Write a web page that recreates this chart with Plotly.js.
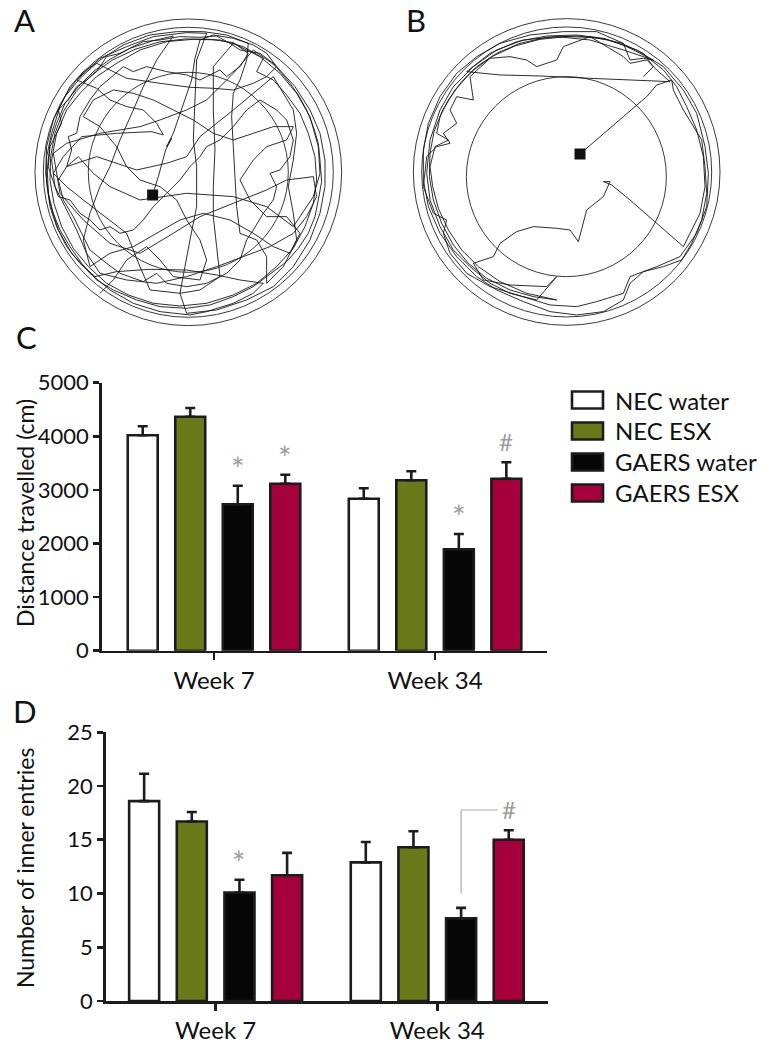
<!DOCTYPE html>
<html><head><meta charset="utf-8">
<script src="https://cdn.plot.ly/plotly-3.0.1.min.js"></script>
<style>html,body{margin:0;padding:0;background:#fff}#chart{width:769px;height:1050px}</style>
</head><body><div id="chart"></div>
<script>
// ---------------- data ----------------
const categories = ['Week 7', 'Week 34'];
const seriesNames = ['NEC water', 'NEC ESX', 'GAERS water', 'GAERS ESX'];

// C: distance travelled (cm), mean and SEM
const distNECwater   = [4019, 2836];
const distNECesx     = [4366, 3179];
const distGAERSwater = [2731, 1892];
const distGAERSesx   = [3116, 3209];
const distSemNECwater   = [168, 194];
const distSemNECesx     = [162, 168];
const distSemGAERSwater = [347, 285];
const distSemGAERSesx   = [168, 306];

// D: number of inner entries, mean and SEM
const entNECwater   = [18.6, 12.9];
const entNECesx     = [16.7, 14.3];
const entGAERSwater = [10.1, 7.7];
const entGAERSesx   = [11.7, 15.0];
const entSemNECwater   = [2.55, 1.9];
const entSemNECesx     = [0.88, 1.49];
const entSemGAERSwater = [1.18, 0.96];
const entSemGAERSesx   = [2.08, 0.88];

// significance marks
const distSigSeries = [2, 3, 2, 3];
const distSigGroup  = [0, 0, 1, 1];
const distSigText   = ['*', '*', '*', '#'];
const entSigSeries = [2, 3];
const entSigGroup  = [0, 1];
const entSigText   = ['*', '#'];
const entBracketTop = 17.77;

const distTitle = 'Distance travelled (cm)';
const entTitle = 'Number of inner entries';
const panelLetters = ['A', 'B', 'C', 'D'];

// A / B: open-field tracks, [x, y] in camera pixels (y downward)
const trackA = [[458,585],[475,530],[497,450],[515,415],[500,440],[520,400],[545,330],[575,240],[585,175],[600,120],
 [640,105],[700,115],[760,135],[800,160],[830,200],[800,230],[760,250],[700,270],[640,265],[570,262],
 [480,250],[380,235],[330,210],[290,190],[250,215],[210,260],[180,320],[155,400],[140,470],[140,550],
 [150,620],[170,680],[200,740],[240,790],[285,830],[350,815],[450,808],[560,810],[650,825],[720,840],
 [790,850],[760,880],[700,910],[620,935],[570,945],[480,935],[400,910],[330,870],[270,820],[215,760],
 [175,690],[150,610],[137,520],[140,440],[160,360],[195,290],[240,235],[300,180],[370,135],[450,105],
 [530,95],[610,95],[680,105],[745,130],[740,180],[720,240],[700,280],[695,350],[700,440],[705,530],
 [710,620],[720,700],[770,720],[800,770],[800,850],[850,800],[890,720],[880,640],[865,560],[880,480],
 [890,400],[880,330],[850,280],[820,230],[700,330],[600,410],[560,470],[500,490],[410,510],[290,470],
 [200,500],[235,470],[280,520],[330,560],[420,600],[560,580],[700,590],[800,620],[880,680],[940,590],
 [960,520],[955,440],[930,350],[890,280],[840,220],[780,170],[700,130],[640,200],[640,330],[645,450],
 [640,560],[640,650],[650,740],[660,830],[600,870],[540,880],[450,870],[420,800],[380,700],[300,640],
 [250,600],[200,560],[160,520],[190,470],[245,410],[350,400],[455,395],[490,405],[470,370],[430,330],
 [380,320],[330,300],[290,265],[230,240],[300,175],[380,140],[460,110],[560,98],[620,100],[590,180],
 [585,300],[580,420],[590,500],[590,620],[570,720],[555,800],[540,880],[560,940],[650,930],[740,900],
 [820,860],[880,800],[930,720],[960,640],[975,560],[975,480],[960,400],[930,330],[885,260],[830,200],
 [760,150],[700,220],[620,300],[560,330],[480,360],[420,380],[300,400],[200,430],[160,460],[180,580],
 [250,660],[330,730],[420,760],[520,700],[600,650],[700,610],[800,570],[860,540],[940,530],[950,590],
 [920,650],[880,700],[810,740],[730,770],[650,800],[560,830],[470,850],[380,840],[300,820],[260,760],
 [230,690],[195,620],[165,560],[155,480],[170,400],[200,330],[240,280],[290,230],[350,190],[420,150],
 [500,125],[580,118],[660,120],[730,140],[790,175],[770,215],[820,240],[860,285],[900,340],[925,400],
 [945,470],[950,540],[940,610],[915,680],[880,745],[830,800],[770,850],[700,885],[620,910],[540,918],
 [460,910],[385,885],[320,850],[265,800],[220,745],[185,680],[162,610],[150,540],[152,470],[165,400],
 [190,335],[228,275],[278,222],[338,180],[405,148],[478,126],[555,117],[632,118],
 [700,128],[745,160],[720,200],[680,230],[660,210],[600,240],[560,225],[500,215],[440,200],[400,215],
 [370,200],[330,235],[300,260],[270,300],[240,350],[230,400],[205,410],[215,450],[200,500],[175,540],
 [190,600],[220,650],[245,700],[270,750],[320,790],[360,820],[430,845],[470,820],[500,850],[560,860],
 [620,850],[680,820],[720,780],[740,720],[760,690],[790,640],[820,600],[830,560],[810,520],[840,510],
 [870,470],[880,420],[860,360],[830,330],[780,300],[740,330],[700,380],[660,420],[620,440],[600,470],
 [570,500],[540,540],[500,580],[460,620],[430,660],[400,690],[360,700],[330,680],[300,690],[270,660],
 [240,640],[210,600],[175,590],[160,545],[145,500],[150,440],[165,410],[185,370],[175,330],[205,300],
 [230,260],[260,240],[290,215],[320,170],[360,160],[400,140],[430,125],[480,120],[540,110],[600,112],
 [650,108],[690,130],[720,150],[780,160],[820,190],[845,220],[870,250],[895,285],[920,330],[940,380],
 [955,430],[960,480],[965,545],[955,600],[945,650],[925,700],[895,745],[860,785],[815,820],[760,860],
 [700,890],[630,915],[560,925],[480,920],[410,900],[340,870],[290,840],[245,790],[210,740],[180,690],
 [160,640],[145,580],[142,510],[150,430],[170,370],[195,310],[235,260],[280,215],[330,178],[390,145],
 [460,122],[520,108],[470,180],[430,260],[400,330],[360,420],[330,500],[300,560],[270,640],[250,720],
 [270,800],[330,760],[400,740],[470,700],[540,660],[610,640],[690,660],[760,700],[820,740],[870,760],
 [900,700],[860,650],[800,650],[750,600],[720,540],[760,480],[800,440],[860,420],[880,380],[820,380],
 [760,400],[700,420],[640,400],[580,360],[520,330],[460,300],[400,280],[340,270],[280,300],[250,350],
 [300,380],[350,440],[380,500],[420,540],[480,560],[530,600],[560,660],[600,720],[620,780],[600,840],
 [520,830],[480,780],[440,740],[380,780],[340,840],[300,880]];
const trackB = [[570,462],[620,420],[700,350],[770,290],[800,255],[845,240],[850,270],[880,330],[910,380],[935,420],
 [945,500],[950,580],[935,660],[905,730],[875,780],[820,800],[760,815],[720,850],[700,900],[640,935],
 [560,945],[480,935],[400,905],[320,870],[260,830],[200,770],[150,700],[115,620],[100,540],[100,450],
 [115,370],[150,290],[200,220],[260,170],[330,130],[420,105],[520,95],[620,95],[700,130],[720,180],
 [760,175],[790,180],[700,150],[600,120],[500,110],[400,120],[320,150],[250,200],[190,260],[150,330],
 [120,420],[110,520],[120,600],[150,680],[190,750],[240,800],[300,850],[360,880],[440,900],[500,830],
 [470,860],[360,855],[280,840],[250,790],[310,770],[330,730],[380,695],[430,680],[500,685],[540,690],
 [565,725],[575,690],[590,630],[640,590],[660,545],[640,545],[665,555],[720,600],[800,670],[880,740],
 [900,700],[930,640],[945,560],[940,470],[920,390],[890,320],[860,260],[820,210],[770,170],[700,135],
 [640,115],[560,105],[470,108],[380,125],[300,160],[230,215],[330,225],[450,228],[600,235],[720,240],
 [840,245],[800,210],[770,180],[720,190],[700,170],[600,110],[520,140],[500,180],[440,200],[410,180],
 [360,170],[300,175],[240,230],[250,300],[200,290],[180,330],[200,370],[160,400],[180,430],[140,440],
 [110,470],[100,560],[130,640],[170,660],[160,700],[180,760],[230,820],[300,860],[400,890],[480,915],
 [560,920],[620,905],[700,880],[720,830],[800,800],[870,770],[920,700],[950,620],[955,520],[945,440],
 [920,340],[880,270],[820,200],[740,150],[650,118],[560,108],[470,112],[390,130],[320,160],[260,200],
 [215,245],[175,300],[150,350],[140,400],[175,420],[135,440],[120,500],[128,560],[145,625],[175,690],
 [215,750],[265,800],[330,845],[410,880],[500,900],[430,890],[360,870],[290,835],[235,790],[190,735],
 [155,670],[130,600],[118,530],[120,460],[132,395],[158,330],[195,270],[245,215],[305,170],[375,138],
 [450,118],[530,110],[610,112],[690,128],[760,160],[790,200],[760,230]];

// arena geometry (camera pixel coordinates)
const arenaACenter = [565, 517];
const arenaBCenter = [530, 516];
const arenaBZoneCenter = [529, 530];
const arenaRadii = [460, 435];
const zoneRadius = 300;

// ---------------- styles ----------------
const seriesColors = ['#ffffff', '#6a7a1b', '#060606', '#a6003a'];
const edge = '#1c1c1c';
const FONT = 'Lato, "Open Sans", sans-serif';
const PX = v => v / 769;
const PY = v => 1 - v / 1050;
const BARGAP = 0.14, GROUPGAP = 0.37;
const slot = (1 - BARGAP) / 4;
const off = i => (i - 1.5) * slot;

const distMeans = [distNECwater, distNECesx, distGAERSwater, distGAERSesx];
const distSems = [distSemNECwater, distSemNECesx, distSemGAERSwater, distSemGAERSesx];
const entMeans = [entNECwater, entNECesx, entGAERSwater, entGAERSesx];
const entSems = [entSemNECwater, entSemNECesx, entSemGAERSwater, entSemGAERSesx];

const traces = [];
function addBars(means, sems, xa, ya) {
  means.forEach((m, i) => {
    traces.push({
      type: 'bar', x: categories, y: m, name: seriesNames[i], xaxis: xa, yaxis: ya,
      showlegend: false, hoverinfo: 'none',
      marker: {color: seriesColors[i], line: {color: edge, width: 2.6}},
      error_y: {type: 'data', array: sems[i], arrayminus: sems[i].map(() => 0), symmetric: false,
                color: edge, thickness: 2.6, width: 5}
    });
  });
}
addBars(distMeans, distSems, 'x', 'y');
addBars(entMeans, entSems, 'x2', 'y2');

function addTrack(track, xa, ya) {
  const xs = track.map(p => p[0]), ys = track.map(p => p[1]);
  traces.push({type: 'scatter', mode: 'lines', x: xs, y: ys, xaxis: xa, yaxis: ya,
    line: {color: '#161616', width: 0.9}, showlegend: false, hoverinfo: 'none'});
  traces.push({type: 'scatter', mode: 'markers', x: [xs[0]], y: [ys[0]], xaxis: xa, yaxis: ya,
    marker: {symbol: 'square', size: 11, color: '#111'}, showlegend: false, hoverinfo: 'none'});
}
addTrack(trackA, 'x3', 'y3');
addTrack(trackB, 'x4', 'y4');

const shapes = [];
function circle(xa, ya, c, r) {
  shapes.push({type: 'circle', xref: xa, yref: ya, x0: c[0] - r, x1: c[0] + r, y0: c[1] - r, y1: c[1] + r,
    line: {color: '#3a3a3a', width: 1}, layer: 'below'});
}
arenaRadii.forEach(r => circle('x3', 'y3', arenaACenter, r));
circle('x3', 'y3', arenaACenter, zoneRadius);
arenaRadii.forEach(r => circle('x4', 'y4', arenaBCenter, r));
circle('x4', 'y4', arenaBZoneCenter, zoneRadius);

const annotations = [];
function sig(xa, ya, means, sems, sSeries, sGroup, sText) {
  sSeries.forEach((s, k) => {
    const g = sGroup[k];
    const star = sText[k] === '*';
    annotations.push({xref: xa, yref: ya, x: g + off(s), y: means[s][g] + sems[s][g],
      text: sText[k], showarrow: false, yanchor: 'bottom', xanchor: 'center',
      yshift: star ? -4 : 4,
      font: {family: FONT, size: star ? 32 : 24, color: '#9d9d9d'}});
  });
}
sig('x', 'y', distMeans, distSems, distSigSeries, distSigGroup, distSigText);
sig('x2', 'y2', entMeans, entSems, entSigSeries, entSigGroup, entSigText);

// bracket in D
shapes.push({type: 'line', xref: 'x2', yref: 'y2', x0: 1 + off(2), x1: 1 + off(2),
  y0: entGAERSwater[1] + 2.3, y1: entBracketTop, line: {color: '#aaaaaa', width: 1.2}});
shapes.push({type: 'line', xref: 'x2', yref: 'y2', x0: 1 + off(2), x1: 1 + off(3) - 0.05,
  y0: entBracketTop, y1: entBracketTop, line: {color: '#aaaaaa', width: 1.2}});

// legend (manual)
const legendCenters = [400, 431, 462, 493];
seriesNames.forEach((n, i) => {
  shapes.push({type: 'rect', xref: 'paper', yref: 'paper', x0: PX(572), x1: PX(603),
    y0: PY(legendCenters[i] + 8.5), y1: PY(legendCenters[i] - 8.5),
    fillcolor: seriesColors[i], line: {color: edge, width: 2.6}});
  annotations.push({xref: 'paper', yref: 'paper', x: PX(613), y: PY(legendCenters[i]), text: n,
    showarrow: false, xanchor: 'left', yanchor: 'middle', font: {family: FONT, size: 24, color: '#111'}});
});

// panel letters
const letterPos = [[24, 20], [416, 20], [26, 337], [25, 711]];
panelLetters.forEach((t, i) => {
  annotations.push({xref: 'paper', yref: 'paper', x: PX(letterPos[i][0]), y: PY(letterPos[i][1]), text: t,
    showarrow: false, xanchor: 'center', yanchor: 'middle', font: {family: FONT, size: 31, color: '#111'}});
});

// y-axis titles (fixed position, as in the figure)
[[distTitle, 513], [entTitle, 868]].forEach(([t, y]) => {
  annotations.push({xref: 'paper', yref: 'paper', x: PX(25), y: PY(y), text: t, textangle: -90,
    showarrow: false, xanchor: 'center', yanchor: 'middle', font: {family: FONT, size: 23, color: '#111'}});
});

const xBase = {type: 'category', showline: true, linewidth: 2.6, linecolor: edge, ticks: 'outside',
  ticklen: 7, tickwidth: 2.6, tickcolor: edge, showgrid: false, zeroline: false,
  tickfont: {family: FONT, size: 24, color: '#111'}, fixedrange: true};
const yBase = {showline: true, linewidth: 2.6, linecolor: edge, ticks: 'outside', ticklen: 6,
  tickwidth: 2.6, tickcolor: edge, showgrid: false, zeroline: false,
  tickfont: {family: FONT, size: 22, color: '#111'}, fixedrange: true};
const hidden = {visible: false, fixedrange: true};

const layout = {
  width: 769, height: 1050, margin: {l: 0, r: 0, t: 0, b: 0},
  paper_bgcolor: '#fff', plot_bgcolor: 'rgba(0,0,0,0)',
  barmode: 'group', bargap: BARGAP, bargroupgap: GROUPGAP, showlegend: false,
  font: {family: FONT, color: '#111'},
  xaxis: Object.assign({}, xBase, {domain: [PX(101.7), PX(546.7)], range: [-0.508, 1.505], anchor: 'y'}),
  yaxis: Object.assign({}, yBase, {domain: [PY(650.7), PY(382.7)], range: [0, 5000], dtick: 1000, anchor: 'x'}),
  xaxis2: Object.assign({}, xBase, {domain: [PX(105.7), PX(548.3)], range: [-0.496, 1.501], anchor: 'y2'}),
  yaxis2: Object.assign({}, yBase, {domain: [PY(1001), PY(732.3)], range: [0, 25], dtick: 5, anchor: 'x2'}),
  xaxis3: Object.assign({}, hidden, {domain: [PX(28.3), PX(348.3)], range: [85, 1045], anchor: 'y3'}),
  yaxis3: Object.assign({}, hidden, {domain: [PY(333.3), PY(13.3)], range: [1000, 40], anchor: 'x3'}),
  xaxis4: Object.assign({}, hidden, {domain: [PX(406.7), PX(726.7)], range: [50, 1010], anchor: 'y4'}),
  yaxis4: Object.assign({}, hidden, {domain: [PY(333.3), PY(13.3)], range: [1000, 40], anchor: 'x4'}),
  shapes: shapes, annotations: annotations
};
Plotly.newPlot('chart', traces, layout, {staticPlot: true, displayModeBar: false});
</script></body></html>
